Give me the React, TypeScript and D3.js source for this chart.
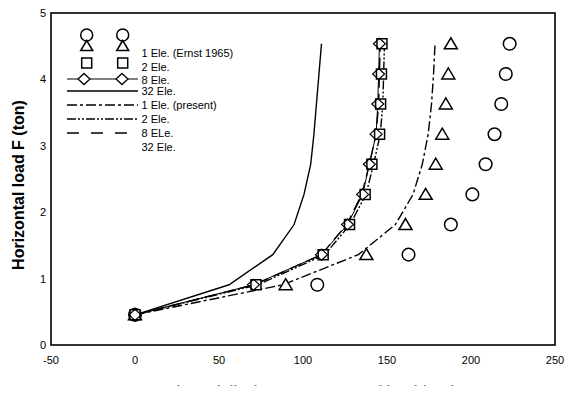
import React from "react";
import * as d3 from "d3";

// Loads (ton) — 1000 lb increments
const loads = [0.454, 0.907, 1.361, 1.814, 2.268, 2.722, 3.175, 3.629, 4.082, 4.536];
// Ernst 1965 test symbols (horizontal displacement)
const circleX = [0, 108.5, 162.8, 188, 200.8, 208.7, 214, 218, 220.7, 223];
const triangleX = [0, 89.7, 137.7, 161, 173, 179, 182.9, 185, 186.5, 188];
const squareX = [0, 72, 112, 127.7, 137, 141, 145.6, 146.2, 146.7, 147];
const diamondX = [0, 70.5, 111, 126.5, 135.5, 139.5, 143.5, 144.5, 145, 145.5];
// Curves
const solid32X = [0, 56, 82, 94.7, 100.6, 104.6, 106.5, 108, 109.5, 111];
const present1X = [0, 88, 133, 155, 165.5, 171, 174.5, 176.5, 177.7, 178.6];
const present2X = [0, 73, 113, 128, 137.5, 142, 146, 147.5, 148, 148.5];
const present8X = [0, 71, 111, 126, 135, 139.5, 143.5, 145, 145.5, 146];

const xTicks = [-50, 0, 50, 100, 150, 200, 250];
const yTicks = [0, 1, 2, 3, 4, 5];

const symbolLabels = ["1 Ele. (Ernst 1965)", "2 Ele.", "8 Ele.", "32 Ele."];
const lineLabels = ["1 Ele. (present)", "2 Ele.", "8 ELe.", "32 Ele."];

const FONT = "'Liberation Sans', Arial, Helvetica, sans-serif";

const tri = (cx: number, cy: number, w = 13, h = 11) =>
  `M${cx},${cy - h * 0.55}L${cx - w / 2},${cy + h * 0.45}L${cx + w / 2},${cy + h * 0.45}Z`;
const sq = (cx: number, cy: number, s = 10) =>
  `M${cx - s / 2},${cy - s / 2}h${s}v${s}h${-s}Z`;
const dia = (cx: number, cy: number, w = 12, h = 11) =>
  `M${cx},${cy - h / 2}L${cx + w / 2},${cy}L${cx},${cy + h / 2}L${cx - w / 2},${cy}Z`;

export default function App() {
  const W = 573;
  const H = 399;
  const x = d3.scaleLinear().domain([-50, 250]).range([51, 555]);
  const y = d3.scaleLinear().domain([0, 5]).range([345, 13]);
  const line = d3
    .line<[number, number]>()
    .x((d) => x(d[0]))
    .y((d) => y(d[1]));
  const pts = (xs: number[]) => xs.map((v, i) => [v, loads[i]] as [number, number]);

  const sw = 1.4;

  return (
    <svg
      width={W}
      height={H}
      style={{ position: "absolute", left: 0, top: 0, background: "#fff" }}
      fontFamily={FONT}
    >
      <defs>
        <clipPath id="xtclip">
          <rect x={0} y={383} width={W} height={2.5} />
        </clipPath>
      </defs>
      <rect x={0} y={0} width={W} height={H} fill="#fff" />

      {/* curves */}
      <path d={line(pts(solid32X)) || ""} fill="none" stroke="#000" strokeWidth={sw} />
      <path d={line(pts(present1X)) || ""} fill="none" stroke="#000" strokeWidth={sw} strokeDasharray="10,3,3,3" />
      <path d={line(pts(present2X)) || ""} fill="none" stroke="#000" strokeWidth={sw} strokeDasharray="9,2,2,2,2,2" />
      <path d={line(pts(present8X)) || ""} fill="none" stroke="#000" strokeWidth={sw} strokeDasharray="12,6" />
      <path d={line(pts(diamondX)) || ""} fill="none" stroke="#000" strokeWidth={1} />

      {/* markers */}
      {circleX.map((v, i) => (
        <circle key={"c" + i} cx={x(v)} cy={y(loads[i])} r={6.3} fill="#fff" stroke="#000" strokeWidth={1.5} />
      ))}
      {triangleX.map((v, i) => (
        <path key={"t" + i} d={tri(x(v), y(loads[i]))} fill="#fff" stroke="#000" strokeWidth={1.5} />
      ))}
      {squareX.map((v, i) => (
        <path key={"s" + i} d={sq(x(v), y(loads[i]))} fill="#fff" stroke="#000" strokeWidth={1.5} />
      ))}
      {diamondX.map((v, i) => (
        <path key={"d" + i} d={dia(x(v), y(loads[i]))} fill="none" stroke="#000" strokeWidth={1.2} />
      ))}

      {/* frame */}
      <rect x={51} y={13} width={504} height={332} fill="none" stroke="#000" strokeWidth={1.6} />

      {/* ticks labels */}
      {xTicks.map((t) => (
        <text key={"xt" + t} x={x(t)} y={364} fontSize={11} textAnchor="middle" fill="#000">
          {t}
        </text>
      ))}
      {yTicks.map((t) => (
        <text key={"yt" + t} x={46} y={y(t) + 4} fontSize={11} textAnchor="end" fill="#000">
          {t}
        </text>
      ))}

      {/* axis titles */}
      <text
        transform={`translate(24,185) rotate(-90)`}
        fontSize={16}
        fontWeight="bold"
        textAnchor="middle"
        fill="#000"
      >
        Horizontal load F (ton)
      </text>
      <g clipPath="url(#xtclip)">
        <text x={304} y={396} fontSize={14} fontWeight="bold" textAnchor="middle" fill="#000">
          Horizontal displacement at ground level (mm)
        </text>
      </g>

      {/* legend */}
      <g>
        <circle cx={86.7} cy={35} r={6} fill="#fff" stroke="#000" strokeWidth={1.5} />
        <circle cx={122.7} cy={35} r={6} fill="#fff" stroke="#000" strokeWidth={1.5} />
        <path d={tri(86.7, 46, 12, 10)} fill="#fff" stroke="#000" strokeWidth={1.5} />
        <path d={tri(122.7, 46, 12, 10)} fill="#fff" stroke="#000" strokeWidth={1.5} />
        <path d={sq(86.7, 63)} fill="#fff" stroke="#000" strokeWidth={1.5} />
        <path d={sq(122.7, 63)} fill="#fff" stroke="#000" strokeWidth={1.5} />
        <line x1={67} x2={138} y1={79} y2={79} stroke="#000" strokeWidth={1} />
        <path d={dia(84, 79, 12, 11)} fill="#fff" stroke="#000" strokeWidth={1.3} />
        <path d={dia(122, 79, 12, 11)} fill="#fff" stroke="#000" strokeWidth={1.3} />
        <line x1={67} x2={138} y1={91} y2={91} stroke="#000" strokeWidth={1.3} />
        <line x1={67} x2={138} y1={105} y2={105} stroke="#000" strokeWidth={1.3} strokeDasharray="10,3,3,3" />
        <line x1={67} x2={138} y1={119} y2={119} stroke="#000" strokeWidth={1.3} strokeDasharray="9,2,2,2,2,2" />
        <line x1={67} x2={138} y1={133} y2={133} stroke="#000" strokeWidth={1.3} strokeDasharray="12,12" />
        {symbolLabels.map((l, i) => (
          <text key={"sl" + i} x={141.5} y={[57, 70.5, 84, 95][i]} fontSize={11} fill="#000">
            {l}
          </text>
        ))}
        {lineLabels.map((l, i) => (
          <text key={"ll" + i} x={141.5} y={[109, 123, 137, 150.5][i]} fontSize={11} fill="#000">
            {l}
          </text>
        ))}
      </g>
    </svg>
  );
}
